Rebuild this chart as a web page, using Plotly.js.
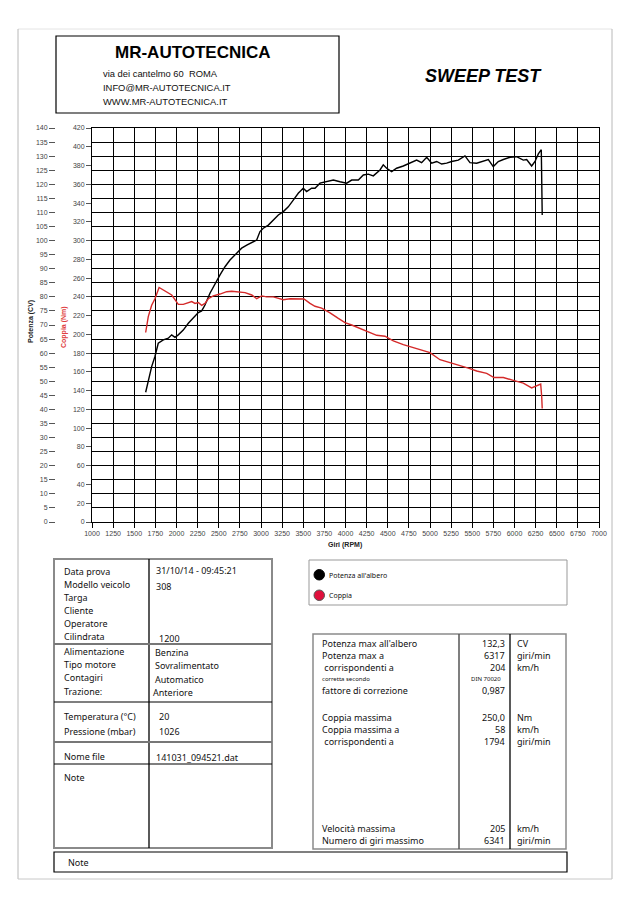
<!DOCTYPE html>
<html>
<head>
<meta charset="utf-8">
<script src="https://cdn.plot.ly/plotly-3.0.1.min.js"></script>
<style>html,body{margin:0;padding:0;background:#fff;}#chart{width:638px;height:903px;}</style>
</head>
<body>
<div id="chart"></div>
<script>
// ---- data ----
const powerRpm = [1635,1666,1706,1745,1784,1844,1903,1943,1982,2021,2080,2140,2199,2258,2298,2337,2396,2456,2515,2574,2633,2712,2771,2831,2890,2949,2988,3027,3087,3146,3205,3264,3323,3382,3441,3500,3540,3599,3639,3698,3777,3856,3935,4014,4073,4152,4211,4270,4329,4388,4408,4447,4487,4546,4605,4684,4763,4842,4901,4961,5020,5079,5138,5197,5256,5335,5414,5473,5552,5631,5690,5749,5808,5868,5947,6025,6104,6144,6203,6243,6282,6317,6322,6328];
const powerCV = [46.1,50.5,55.2,58.8,63.5,64.7,65.3,66.5,65.6,66.5,68.2,70.6,72.4,74.4,75.0,77.1,81.3,84.8,87.8,90.7,93.1,95.5,97.3,98.4,99.2,100.2,103.2,104.4,105.5,107.3,109.1,110.3,112.0,114.4,116.8,118.6,117.4,118.6,118.6,120.4,120.9,121.5,120.9,120.4,121.5,121.5,123.3,123.6,123.0,124.5,125.1,126.9,125.7,124.5,125.7,126.5,127.5,128.6,127.7,129.6,127.5,128.1,127.2,127.5,128.1,128.6,130.1,127.7,127.5,128.1,128.8,126.3,128.1,128.8,129.6,129.8,128.6,128.8,126.5,128.1,130.8,132.3,121.5,109.1];
const torqueRpm = [1635,1666,1706,1745,1794,1844,1903,1943,1982,2021,2080,2140,2180,2219,2258,2298,2337,2376,2435,2515,2594,2653,2732,2811,2890,2949,3008,3067,3146,3264,3343,3422,3509,3580,3639,3718,3817,3915,3994,4073,4172,4270,4369,4467,4566,4684,4802,4921,5000,5118,5237,5355,5454,5553,5671,5757,5868,5986,6104,6203,6254,6310,6322,6328];
const torqueNm = [202,219,231,238,250,247,244,242,237,232,232,234,235,233,234,231,233,238,241,243,245.5,246,245,244.5,242,238,241,240,240,237,238,238,237.7,233,230,228,223,217,212.5,210,206.5,203,199,198,193,189,186,183,180.5,173,170,167,164,161,158.5,154,154,151,148,143,145,147,133.6,121];

const xTickVals = [1000,1250,1500,1750,2000,2250,2500,2750,3000,3250,3500,3750,4000,4250,4500,4750,5000,5250,5500,5750,6000,6250,6500,6750,7000];

const infoLabels = ["Data prova","Modello veicolo","Targa","Cliente","Operatore","Cilindrata","Alimentazione","Tipo motore","Contagiri","Trazione:","Temperatura (°C)","Pressione (mbar)","Nome file","Note"];
const infoValues = ["31/10/14 - 09:45:21","308","","","","1200","Benzina","Sovralimentato","Automatico","Anteriore","20","1026","141031_094521.dat",""];

const resLabels = ["Potenza max all'albero","Potenza max a"," corrispondenti a","corretta secondo","fattore di correzione","Coppia massima","Coppia massima a"," corrispondenti a","Velocità massima","Numero di giri massimo"];
const resValues = ["132,3","6317","204","DIN 70020","0,987","250,0","58","1794","205","6341"];
const resUnits = ["CV","giri/min","km/h","","","Nm","km/h","giri/min","km/h","giri/min"];

const legendNames = ["Potenza all'albero","Coppia"];

// ---- layout geometry ----
const W=638,H=903,L=20,R=39,T=128,B=381;
const PW=W-L-R, PH=H-T-B;
const px = x => (x-L)/PW;
const py = y => (H-B-y)/PH;

const RED = "#d42a2a";
const shapes = [];
const ann = [];
function rect(x0,y0,x1,y1,color,w,fill){shapes.push({type:'rect',xref:'paper',yref:'paper',x0:px(x0),x1:px(x1),y0:py(y0),y1:py(y1),line:{color:color,width:w},fillcolor:fill||'rgba(0,0,0,0)',layer:'above'});}
function line(x0,y0,x1,y1,color,w){shapes.push({type:'line',xref:'paper',yref:'paper',x0:px(x0),x1:px(x1),y0:py(y0),y1:py(y1),line:{color:color,width:w},layer:'above'});}
function text(t,x,y,size,opts){opts=opts||{};ann.push({text:t,xref:'paper',yref:'paper',x:px(x),y:py(y),xanchor:opts.anchor||'left',yanchor:'middle',showarrow:false,textangle:opts.angle||0,font:{family:opts.family||'"Noto Sans", sans-serif',size:size,color:opts.color||'#111',weight:opts.weight||'normal',style:opts.style||'normal'}});}

// page frame
line(18,29,612,29,'#e4e4e4',1);
line(18,29,18,879,'#b8b8b8',1);
line(612,29,612,879,'#b8b8b8',1);
line(18,879,612,879,'#c8c8c8',1);

// header
rect(56,36,339,113,'#000',1.2);
text('MR-AUTOTECNICA',193,52,17,{anchor:'center',family:'"Liberation Sans", Arial, sans-serif',weight:'bold',color:'#000'});
text('via dei cantelmo 60  ROMA',101,73,9.4,{family:'"Liberation Sans", Arial, sans-serif'});
text('INFO@MR-AUTOTECNICA.IT',101,87,9.4,{family:'"Liberation Sans", Arial, sans-serif'});
text('WWW.MR-AUTOTECNICA.IT',101,101,9.4,{family:'"Liberation Sans", Arial, sans-serif'});
text('SWEEP TEST',483,76,18,{anchor:'center',family:'"Liberation Sans", Arial, sans-serif',weight:'bold',style:'italic',color:'#000'});

// axis titles
text('Potenza (CV)',31,322,7,{anchor:'center',angle:-90,weight:'bold',color:'#222',family:'"Liberation Sans", Arial, sans-serif'});
text('Coppia (Nm)',64,327,7,{anchor:'center',angle:-90,weight:'bold',color:'#e04040',family:'"Liberation Sans", Arial, sans-serif'});
text('Giri (RPM)',345,545,7,{anchor:'center',weight:'bold',color:'#222',family:'"Liberation Sans", Arial, sans-serif'});

// left info table
rect(54,559,272,848,'#8a8a8a',2);
line(149,559,149,848,'#000',1.3);
line(54,644,272,644,'#777',2);
line(54,702,272,702,'#000',1.2);
line(54,742,272,742,'#777',2);
line(54,764,272,764,'#000',1.2);
const infoY = [571,584,597,610,623,636,651,664,677,691,716,731,756,777];
const infoVY = [570,586,597,610,623,638,652,665,679,692,716,731,757,777];
const infoVX = [154,154,154,154,154,157,153,153,153,151,157,157,154,154];
infoLabels.forEach((t,i)=>{text(t,62,infoY[i],9);});
infoValues.forEach((t,i)=>{if(t) text(t,infoVX[i],infoVY[i],9);});

// legend box
rect(309,560,567,605,'#999',1);
shapes.push({type:'circle',xref:'paper',yref:'paper',x0:px(314),x1:px(324.5),y0:py(580),y1:py(569.5),fillcolor:'#000',line:{color:'#000',width:1},layer:'above'});
shapes.push({type:'circle',xref:'paper',yref:'paper',x0:px(314),x1:px(324.5),y0:py(600.5),y1:py(590),fillcolor:'#e0103c',line:{color:'#555',width:1},layer:'above'});
text(legendNames[0],327,575,7);
text(legendNames[1],327,595,7);

// results table
rect(313,634,566,849,'#8a8a8a',1.5);
line(459,634,459,849,'#555',1.5);
line(510,634,510,849,'#000',1.3);
const resY = [643,655,667,679,690,717,729,741,828,840];
resLabels.forEach((t,i)=>{text(t,320,resY[i],i===3?6:9);});
resValues.forEach((t,i)=>{
  if(i===3) text(t,503,679,6,{anchor:'right'});
  else text(t,507,resY[i],9,{anchor:'right'});
});
resUnits.forEach((t,i)=>{if(t) text(t,515,resY[i],9);});

// bottom note box
rect(54,852,567,872,'#000',1.2);
text('Note',66,862,9);

const traces = [
  {x:powerRpm,y:powerCV,type:'scatter',mode:'lines',name:legendNames[0],line:{color:'#000',width:1.4},yaxis:'y',xaxis:'x',showlegend:false},
  {x:torqueRpm,y:torqueNm,type:'scatter',mode:'lines',name:legendNames[1],line:{color:RED,width:1.4},yaxis:'y2',xaxis:'x',showlegend:false}
];

const tickFont = {family:'"Liberation Sans", Arial, sans-serif',size:7,color:'#444'};
const layout = {
  width:W,height:H,
  margin:{l:L,r:R,t:T,b:B,pad:0},
  paper_bgcolor:'#fff',plot_bgcolor:'#fff',
  showlegend:false,
  hovermode:false,
  xaxis:{domain:[px(92),1],range:[1000,7000],tickvals:xTickVals,ticktext:xTickVals.map(String),
    showgrid:true,gridcolor:'#000',gridwidth:1,zeroline:false,
    showline:true,linecolor:'#000',linewidth:1,mirror:true,
    ticks:'outside',ticklen:5,tickcolor:'#000',tickwidth:1,tickfont:tickFont,tickangle:0},
  yaxis:{range:[0,140],dtick:5,anchor:'free',position:px(55),side:'left',
    showgrid:true,gridcolor:'#000',gridwidth:1,zeroline:false,showline:false,
    ticks:'outside',ticklen:6,tickcolor:'#555',tickwidth:1,tickfont:tickFont},
  yaxis2:{range:[0,420],dtick:20,overlaying:'y',anchor:'x',side:'left',
    showgrid:false,zeroline:false,showline:true,linecolor:'#000',linewidth:1,mirror:true,
    ticks:'outside',ticklen:5,tickcolor:'#555',tickwidth:1,tickfont:tickFont},
  shapes:shapes,
  annotations:ann
};

Plotly.newPlot('chart',traces,layout,{staticPlot:true,displayModeBar:false});
</script>
</body>
</html>
